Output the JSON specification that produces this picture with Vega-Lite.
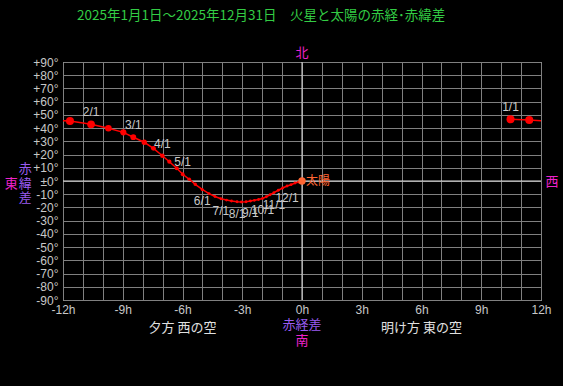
{
  "$schema": "https://vega.github.io/schema/vega-lite/v6.json",
  "width": 478,
  "height": 238,
  "autosize": "none",
  "padding": {"left": 63, "top": 62, "right": 22, "bottom": 86},
  "background": "#000000",
  "title": {
    "text": "2025年1月1日～2025年12月31日　火星と太陽の赤経･赤緯差",
    "color": "#33cc44",
    "font": "Noto Sans CJK JP",
    "fontSize": 13.5,
    "fontWeight": "normal",
    "anchor": "start",
    "frame": "group",
    "dx": 14,
    "offset": 25
  },
  "config": {
    "view": {"stroke": "#e0e0e0", "strokeWidth": 1},
    "axis": {
      "labelFont": "Liberation Sans",
      "labelFontSize": 12,
      "labelColor": "#c8c8c8",
      "gridColor": "#808080",
      "gridOpacity": 1,
      "gridWidth": 1,
      "ticks": false,
      "domain": false,
      "labelOverlap": false,
      "labelFlush": false,
      "title": null
    }
  },
  "datasets": {
    "mars": [
      {"date": "1/1", "m": 1, "label": "1/1", "x": 10.47, "y": 46.7, "mag": -1.2},
      {"date": "1/11", "m": 1, "label": "", "x": 11.41, "y": 46.1, "mag": -1.3},
      {"date": "1/21", "m": 1, "label": "", "x": -11.65, "y": 45.4, "mag": -1.4},
      {"date": "2/1", "m": 2, "label": "2/1", "x": -10.59, "y": 42.9, "mag": -1.1},
      {"date": "2/11", "m": 2, "label": "", "x": -9.72, "y": 39.9, "mag": -0.7},
      {"date": "2/21", "m": 2, "label": "", "x": -8.97, "y": 36.8, "mag": -0.5},
      {"date": "3/1", "m": 3, "label": "3/1", "x": -8.47, "y": 33.1, "mag": -0.3},
      {"date": "3/11", "m": 3, "label": "", "x": -7.92, "y": 29.3, "mag": -0.1},
      {"date": "3/21", "m": 3, "label": "", "x": -7.46, "y": 24.7, "mag": 0.1},
      {"date": "4/1", "m": 4, "label": "4/1", "x": -7.01, "y": 19.1, "mag": 0.3},
      {"date": "4/11", "m": 4, "label": "", "x": -6.66, "y": 14.6, "mag": 0.5},
      {"date": "4/21", "m": 4, "label": "", "x": -6.29, "y": 9.6, "mag": 0.6},
      {"date": "5/1", "m": 5, "label": "5/1", "x": -5.99, "y": 5.1, "mag": 0.8},
      {"date": "5/11", "m": 5, "label": "", "x": -5.66, "y": 1.3, "mag": 0.9},
      {"date": "5/21", "m": 5, "label": "", "x": -5.36, "y": -2.5, "mag": 1.0},
      {"date": "6/1", "m": 6, "label": "6/1", "x": -5.01, "y": -6.4, "mag": 1.1},
      {"date": "6/11", "m": 6, "label": "", "x": -4.67, "y": -9.5, "mag": 1.2},
      {"date": "6/21", "m": 6, "label": "", "x": -4.37, "y": -11.7, "mag": 1.3},
      {"date": "7/1", "m": 7, "label": "7/1", "x": -4.07, "y": -13.4, "mag": 1.4},
      {"date": "7/11", "m": 7, "label": "", "x": -3.79, "y": -14.4, "mag": 1.5},
      {"date": "7/21", "m": 7, "label": "", "x": -3.54, "y": -15.1, "mag": 1.5},
      {"date": "8/1", "m": 8, "label": "8/1", "x": -3.26, "y": -15.7, "mag": 1.6},
      {"date": "8/11", "m": 8, "label": "", "x": -3.04, "y": -15.9, "mag": 1.6},
      {"date": "8/21", "m": 8, "label": "", "x": -2.81, "y": -15.7, "mag": 1.6},
      {"date": "9/1", "m": 9, "label": "9/1", "x": -2.59, "y": -15.1, "mag": 1.6},
      {"date": "9/11", "m": 9, "label": "", "x": -2.39, "y": -14.6, "mag": 1.6},
      {"date": "9/21", "m": 9, "label": "", "x": -2.18, "y": -14.0, "mag": 1.6},
      {"date": "10/1", "m": 10, "label": "10/1", "x": -1.98, "y": -13.2, "mag": 1.5},
      {"date": "10/11", "m": 10, "label": "", "x": -1.79, "y": -11.9, "mag": 1.5},
      {"date": "10/21", "m": 10, "label": "", "x": -1.60, "y": -10.4, "mag": 1.5},
      {"date": "11/1", "m": 11, "label": "11/1", "x": -1.41, "y": -8.8, "mag": 1.4},
      {"date": "11/11", "m": 11, "label": "", "x": -1.19, "y": -7.0, "mag": 1.4},
      {"date": "11/21", "m": 11, "label": "", "x": -0.97, "y": -5.3, "mag": 1.4},
      {"date": "12/1", "m": 12, "label": "12/1", "x": -0.75, "y": -3.8, "mag": 1.3},
      {"date": "12/11", "m": 12, "label": "", "x": -0.55, "y": -2.8, "mag": 1.3},
      {"date": "12/21", "m": 12, "label": "", "x": -0.35, "y": -1.5, "mag": 1.3},
      {"date": "12/31", "m": 12, "label": "", "x": -0.17, "y": -0.8, "mag": 1.2}
    ],
    "track": [
      {"seg": "a", "x": 10.47, "y": 46.7},
      {"seg": "a", "x": 11.41, "y": 46.1},
      {"seg": "a", "x": 12.35, "y": 45.4},
      {"seg": "b", "x": -12.59, "y": 46.1},
      {"seg": "b", "x": -11.65, "y": 45.4},
      {"seg": "b", "x": -10.59, "y": 42.9},
      {"seg": "b", "x": -9.72, "y": 39.9},
      {"seg": "b", "x": -8.97, "y": 36.8},
      {"seg": "b", "x": -8.47, "y": 33.1},
      {"seg": "b", "x": -7.92, "y": 29.3},
      {"seg": "b", "x": -7.46, "y": 24.7},
      {"seg": "b", "x": -7.01, "y": 19.1},
      {"seg": "b", "x": -6.66, "y": 14.6},
      {"seg": "b", "x": -6.29, "y": 9.6},
      {"seg": "b", "x": -5.99, "y": 5.1},
      {"seg": "b", "x": -5.66, "y": 1.3},
      {"seg": "b", "x": -5.36, "y": -2.5},
      {"seg": "b", "x": -5.01, "y": -6.4},
      {"seg": "b", "x": -4.67, "y": -9.5},
      {"seg": "b", "x": -4.37, "y": -11.7},
      {"seg": "b", "x": -4.07, "y": -13.4},
      {"seg": "b", "x": -3.79, "y": -14.4},
      {"seg": "b", "x": -3.54, "y": -15.1},
      {"seg": "b", "x": -3.26, "y": -15.7},
      {"seg": "b", "x": -3.04, "y": -15.9},
      {"seg": "b", "x": -2.81, "y": -15.7},
      {"seg": "b", "x": -2.59, "y": -15.1},
      {"seg": "b", "x": -2.39, "y": -14.6},
      {"seg": "b", "x": -2.18, "y": -14.0},
      {"seg": "b", "x": -1.98, "y": -13.2},
      {"seg": "b", "x": -1.79, "y": -11.9},
      {"seg": "b", "x": -1.60, "y": -10.4},
      {"seg": "b", "x": -1.41, "y": -8.8},
      {"seg": "b", "x": -1.19, "y": -7.0},
      {"seg": "b", "x": -0.97, "y": -5.3},
      {"seg": "b", "x": -0.75, "y": -3.8},
      {"seg": "b", "x": -0.55, "y": -2.8},
      {"seg": "b", "x": -0.35, "y": -1.5},
      {"seg": "b", "x": -0.17, "y": -0.8}
    ],
    "sun": [
      {"name": "太陽", "x": 0, "y": 0}
    ],
    "one": [{}]
  },
  "layer": [
    {
      "data": {"name": "mars"},
      "mark": {"type": "point", "opacity": 0},
      "encoding": {
        "x": {
          "field": "x", "type": "quantitative",
          "scale": {"domain": [-12, 12], "nice": false, "zero": false},
          "axis": {
            "values": [-12, -11, -10, -9, -8, -7, -6, -5, -4, -3, -2, -1, 0, 1, 2, 3, 4, 5, 6, 7, 8, 9, 10, 11, 12],
            "tickCount": 100,
            "labelExpr": "datum.value % 3 == 0 ? datum.value + 'h' : ''",
            "labelPadding": 4,
            "title": null
          }
        },
        "y": {
          "field": "y", "type": "quantitative",
          "scale": {"domain": [-90, 90], "nice": false, "zero": false},
          "axis": {
            "values": [-90, -80, -70, -60, -50, -40, -30, -20, -10, 0, 10, 20, 30, 40, 50, 60, 70, 80, 90],
            "tickCount": 100,
            "labelExpr": "datum.value > 0 ? '+' + datum.value + '°' : (datum.value == 0 ? '±0°' : datum.value + '°')",
            "labelPadding": 5,
            "title": null
          }
        }
      }
    },
    {
      "data": {"name": "one"},
      "mark": {"type": "rule", "color": "#e0e0e0", "strokeWidth": 1},
      "encoding": {"x": {"datum": 0, "type": "quantitative"}}
    },
    {
      "data": {"name": "one"},
      "mark": {"type": "rule", "color": "#e0e0e0", "strokeWidth": 1},
      "encoding": {"y": {"datum": 0, "type": "quantitative"}}
    },
    {
      "data": {"name": "track"},
      "mark": {"type": "line", "color": "#ff0000", "strokeWidth": 1.5, "clip": true},
      "encoding": {
        "x": {"field": "x", "type": "quantitative"},
        "y": {"field": "y", "type": "quantitative"},
        "detail": {"field": "seg", "type": "nominal"}
      }
    },
    {
      "data": {"name": "mars"},
      "mark": {"type": "circle", "color": "#ff0000", "opacity": 1},
      "encoding": {
        "x": {"field": "x", "type": "quantitative"},
        "y": {"field": "y", "type": "quantitative"},
        "size": {
          "field": "mag", "type": "quantitative",
          "scale": {"domain": [-1.2, -0.6, 0.2, 1.0, 1.2], "range": [64, 40, 22, 12, 8], "clamp": true},
          "legend": null
        }
      }
    },
    {
      "data": {"name": "mars"},
      "transform": [{"filter": "datum.label != '' && datum.m <= 5"}],
      "mark": {"type": "text", "color": "#c8c8c8", "font": "Liberation Sans", "fontSize": 12, "dy": -12, "baseline": "middle"},
      "encoding": {
        "x": {"field": "x", "type": "quantitative"},
        "y": {"field": "y", "type": "quantitative"},
        "text": {"field": "label"}
      }
    },
    {
      "data": {"name": "mars"},
      "transform": [{"filter": "datum.label != '' && datum.m >= 6"}],
      "mark": {"type": "text", "color": "#c8c8c8", "font": "Liberation Sans", "fontSize": 12, "dy": 12, "baseline": "middle"},
      "encoding": {
        "x": {"field": "x", "type": "quantitative"},
        "y": {"field": "y", "type": "quantitative"},
        "text": {"field": "label"}
      }
    },
    {
      "data": {"name": "sun"},
      "mark": {"type": "circle", "color": "#ff6633", "opacity": 1, "size": 55},
      "encoding": {
        "x": {"field": "x", "type": "quantitative"},
        "y": {"field": "y", "type": "quantitative"}
      }
    },
    {
      "data": {"name": "sun"},
      "mark": {"type": "text", "color": "#ff6633", "font": "Noto Sans CJK JP", "fontSize": 12, "align": "left", "dx": 4, "baseline": "middle"},
      "encoding": {
        "x": {"field": "x", "type": "quantitative"},
        "y": {"field": "y", "type": "quantitative"},
        "text": {"field": "name"}
      }
    },
    {
      "data": {"name": "one"},
      "mark": {"type": "text", "text": "北", "color": "#ee22cc", "font": "Noto Sans CJK JP", "fontSize": 13, "baseline": "middle"},
      "encoding": {"x": {"datum": 0, "type": "quantitative"}, "y": {"datum": 96.8, "type": "quantitative"}}
    },
    {
      "data": {"name": "one"},
      "mark": {"type": "text", "text": "西", "color": "#ee22cc", "font": "Noto Sans CJK JP", "fontSize": 13, "baseline": "middle"},
      "encoding": {"x": {"datum": 12.55, "type": "quantitative"}, "y": {"datum": -0.8, "type": "quantitative"}}
    },
    {
      "data": {"name": "one"},
      "mark": {"type": "text", "text": "東", "color": "#ee22cc", "font": "Noto Sans CJK JP", "fontSize": 13, "baseline": "middle"},
      "encoding": {"x": {"datum": -14.6, "type": "quantitative"}, "y": {"datum": -2.3, "type": "quantitative"}}
    },
    {
      "data": {"name": "one"},
      "mark": {"type": "text", "text": "赤", "color": "#9a5cf0", "font": "Noto Sans CJK JP", "fontSize": 13, "baseline": "middle"},
      "encoding": {"x": {"datum": -13.9, "type": "quantitative"}, "y": {"datum": 9.1, "type": "quantitative"}}
    },
    {
      "data": {"name": "one"},
      "mark": {"type": "text", "text": "緯", "color": "#9a5cf0", "font": "Noto Sans CJK JP", "fontSize": 13, "baseline": "middle"},
      "encoding": {"x": {"datum": -13.9, "type": "quantitative"}, "y": {"datum": -2.3, "type": "quantitative"}}
    },
    {
      "data": {"name": "one"},
      "mark": {"type": "text", "text": "差", "color": "#9a5cf0", "font": "Noto Sans CJK JP", "fontSize": 13, "baseline": "middle"},
      "encoding": {"x": {"datum": -13.9, "type": "quantitative"}, "y": {"datum": -12.5, "type": "quantitative"}}
    },
    {
      "data": {"name": "one"},
      "mark": {"type": "text", "text": "赤経差", "color": "#9a5cf0", "font": "Noto Sans CJK JP", "fontSize": 13, "baseline": "middle"},
      "encoding": {"x": {"datum": 0, "type": "quantitative"}, "y": {"datum": -108.9, "type": "quantitative"}}
    },
    {
      "data": {"name": "one"},
      "mark": {"type": "text", "text": "南", "color": "#ee22cc", "font": "Noto Sans CJK JP", "fontSize": 13, "baseline": "middle"},
      "encoding": {"x": {"datum": 0, "type": "quantitative"}, "y": {"datum": -121, "type": "quantitative"}}
    },
    {
      "data": {"name": "one"},
      "mark": {"type": "text", "text": "夕方 西の空", "color": "#e0e0e0", "font": "Noto Sans CJK JP", "fontSize": 13, "baseline": "middle"},
      "encoding": {"x": {"datum": -6, "type": "quantitative"}, "y": {"datum": -111.2, "type": "quantitative"}}
    },
    {
      "data": {"name": "one"},
      "mark": {"type": "text", "text": "明け方 東の空", "color": "#e0e0e0", "font": "Noto Sans CJK JP", "fontSize": 13, "baseline": "middle"},
      "encoding": {"x": {"datum": 6, "type": "quantitative"}, "y": {"datum": -111.2, "type": "quantitative"}}
    }
  ]
}
